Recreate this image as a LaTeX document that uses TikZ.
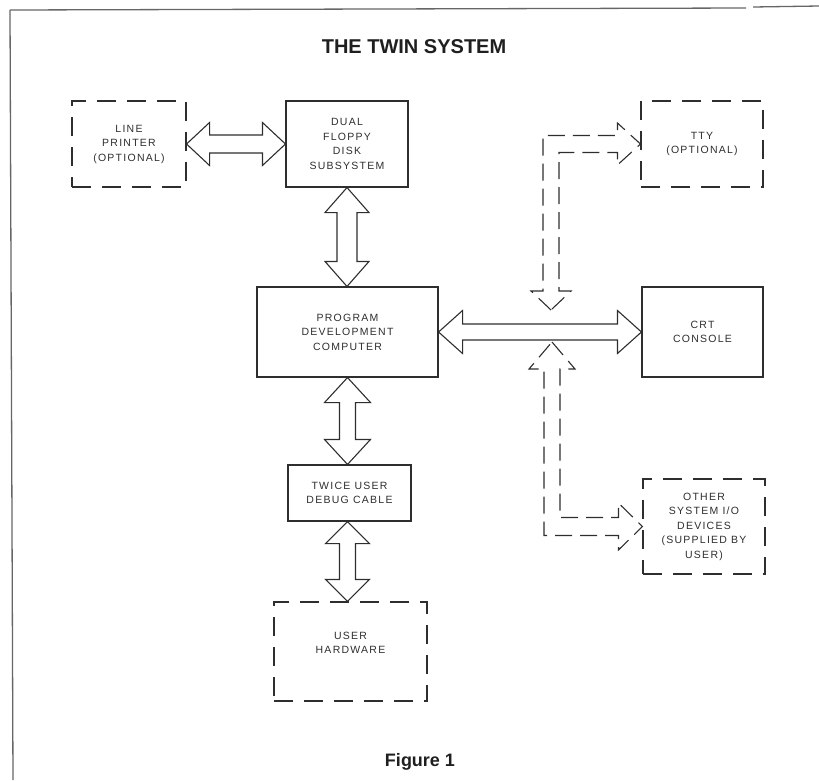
\documentclass[tikz,border=0pt]{standalone}
\usepackage{fontspec}
\setmainfont{Liberation Sans}
\newfontfamily\boxfont[LetterSpace=12]{Liberation Sans}
\usetikzlibrary{calc}

\tikzset{
  ink/.style={draw=black!82, line width=1.1pt},
  sbox/.style={ink, rectangle, inner sep=0pt, align=center,
    font=\boxfont\fontsize{10.5}{14.5}\selectfont, text=black!82},
  dbox/.style={sbox, dash pattern=on 19pt off 11pt},
  txt/.style={align=center, inner sep=0pt, font=\boxfont\fontsize{10.5}{14.5}\selectfont, text=black!82},
  fat/.style={ink, line join=miter},
  dfat/.style={fat, dash pattern=on 17pt off 8pt},
  frame/.style={draw=black!60, line width=1.3pt},
  heading/.style={font=\bfseries\fontsize{20}{24}\selectfont, text=black!88, inner sep=0pt},
}

% horizontal double fat arrow: style, left tip, right tip, head length, head half-width, shaft half-width
\newcommand\hfat[6]{%
  \draw[#1] (#2) -- ++(#4,-#5) -- ++(0,#5-#6) -- ($(#3)+(-#4,-#6)$) -- ++(0,#6-#5)
    -- (#3) -- ++(-#4,#5) -- ++(0,#6-#5) -- ($(#2)+(#4,#6)$) -- ++(0,#5-#6) -- cycle;}
% vertical double fat arrow: style, top tip, bottom tip, head length, head half-width, shaft half-width
\newcommand\vfat[6]{%
  \draw[#1] (#2) -- ++(#5,#4) -- ++(#6-#5,0) -- ($(#3)+(#6,-#4)$) -- ++(#5-#6,0)
    -- (#3) -- ++(-#5,-#4) -- ++(#5-#6,0) -- ($(#2)+(-#6,#4)$) -- ++(#6-#5,0) -- cycle;}

\begin{document}
\begin{tikzpicture}[x=1pt, y=-1pt]
\useasboundingbox (0,0) rectangle (819,780);

% outer frame of the scanned page
\draw[frame] (10,10) -- (13,780);
\draw[frame] (10,10) -- (746,8);
\draw[frame] (753,7) -- (819,6);

\node[heading] (title) at (414,47) {THE TWIN SYSTEM};
\node[heading, font=\bfseries\fontsize{18}{22}\selectfont] (fig) at (420,762) {Figure 1};

% boxes
\node[dbox, minimum width=114pt, minimum height=86pt] (lp) at (129,144) {LINE\\PRINTER\\(OPTIONAL)};
\node[sbox, minimum width=122pt, minimum height=86pt] (fd) at (347,144) {DUAL\\FLOPPY\\DISK\\SUBSYSTEM};
\node[dbox, minimum width=122pt, minimum height=86pt] (tty) at (702,144) {TTY\\(OPTIONAL)};
\node[sbox, minimum width=181pt, minimum height=90pt] (pdc) at (347.5,332) {PROGRAM\\DEVELOPMENT\\COMPUTER};
\node[sbox, minimum width=121pt, minimum height=90pt] (crt) at (702.5,332) {CRT\\CONSOLE};
\node[sbox, minimum width=123pt, minimum height=56pt] (tudc) at (349.5,493) {TWICE USER\\DEBUG CABLE};
\node[dbox, minimum width=153pt, minimum height=99pt] (uh) at (350.5,651.5) {};
\node[txt] (uhtext) at (350.5,643) {USER\\HARDWARE};
\node[dbox, minimum width=122pt, minimum height=95pt] (other) at (704,526.5) {OTHER\\SYSTEM I/O\\DEVICES\\(SUPPLIED BY\\USER)};

% solid double arrows
\hfat{fat}{lp.east}{fd.west}{23}{21.5}{9}
\coordinate (fdb) at (fd.south |- pdc.north);
\vfat{fat}{fd.south}{fdb}{25}{22}{10}
\coordinate (pdcb) at (pdc.south |- tudc.north);
\vfat{fat}{pdc.south}{pdcb}{25}{23}{8}
\coordinate (tua) at (pdc.south |- tudc.south);
\coordinate (tub) at (pdc.south |- uh.north);
\vfat{fat}{tua}{tub}{22}{22}{8}
\hfat{fat}{pdc.east}{crt.west}{24}{21.5}{8}

% dashed L-shaped arrows
\coordinate (tb) at (551,310);
\draw[dfat] (tb) -- ++(-20,-19) -- ++(12,0) |- ($(tty.west)+(-23,-8.5)$) -- ++(0,-12.5)
  -- (tty.west) -- ++(-23,21) -- ++(0,-12.5) -| ($(tb)+(8,-19)$) -- ++(12,0) -- cycle;

\coordinate (ob) at (552,342);
\draw[dfat] (ob) -- ++(23,27) -- ++(-15,0) |- ($(other.west)+(-24,-9)$) -- ++(0,-14.5)
  -- (other.west) -- ++(-24,23.5) -- ++(0,-14.5) -| ($(ob)+(-8,27)$) -- ++(-15,0) -- cycle;
\end{tikzpicture}
\end{document}
